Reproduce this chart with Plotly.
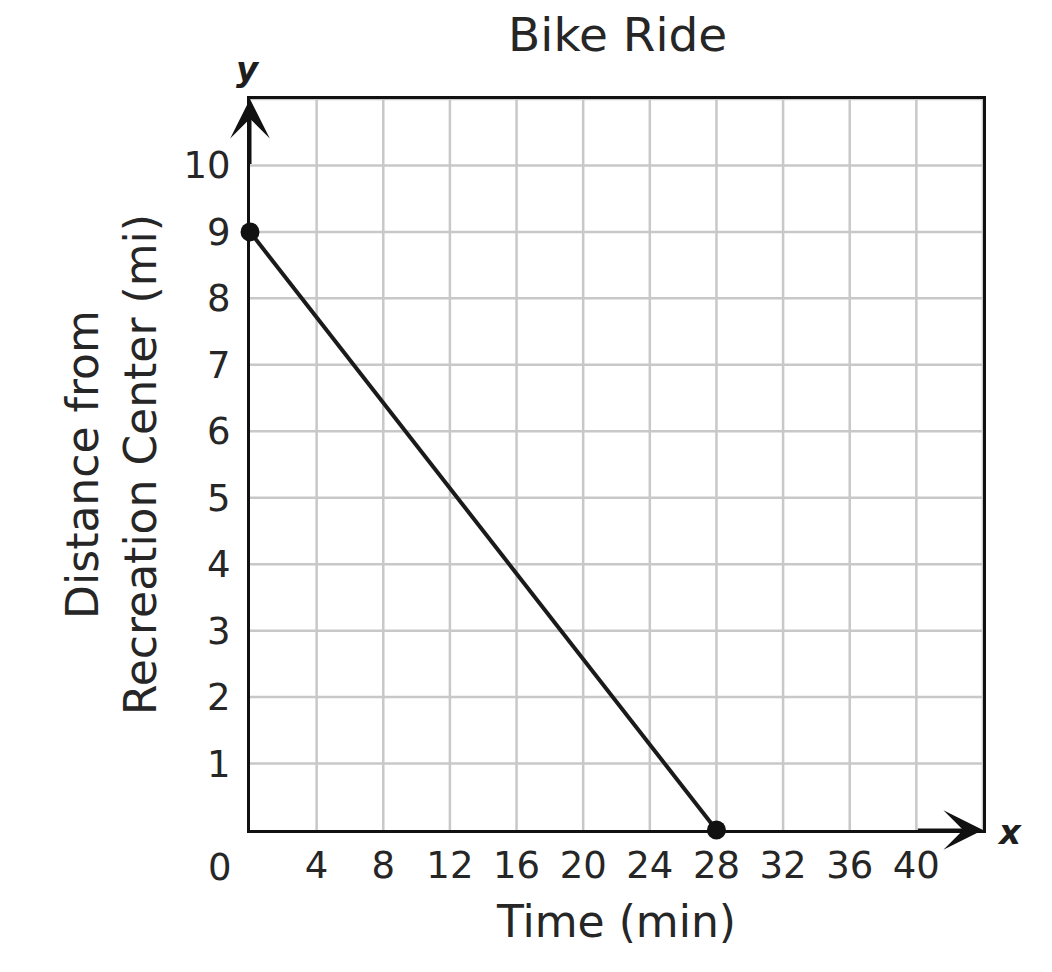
import plotly.graph_objects as go

# data
time_min = [0, 28]
distance_mi = [9, 0]
x_ticks = [4, 8, 12, 16, 20, 24, 28, 32, 36, 40]
y_ticks = [1, 2, 3, 4, 5, 6, 7, 8, 9, 10]
x_range = [0, 44]
y_range = [0, 11]

FONT = "DejaVu Sans"
TEXT = "#262626"
GRID = "#c8c8c8"

fig = go.Figure()

# grid lines drawn as shapes so every cell up to the box edge shows
for gx in range(4, 45, 4):
    fig.add_shape(type="line", xref="x", yref="y", x0=gx, x1=gx, y0=0, y1=11,
                  line=dict(color=GRID, width=2.5), layer="below")
for gy in range(1, 12):
    fig.add_shape(type="line", xref="x", yref="y", x0=0, x1=44, y0=gy, y1=gy,
                  line=dict(color=GRID, width=2.5), layer="below")

fig.add_trace(go.Scatter(
    x=time_min, y=distance_mi,
    mode="lines+markers",
    line=dict(color="#1a1a1a", width=4),
    marker=dict(color="#111111", size=19),
    cliponaxis=False,
    hoverinfo="x+y",
))

# axis arrows
fig.add_annotation(x=44, y=0, ax=40, ay=0, xref="x", yref="y", axref="x", ayref="y",
                   showarrow=True, arrowhead=3, arrowsize=2.2, arrowwidth=3,
                   arrowcolor="#111111", text="")
fig.add_annotation(x=0, y=11, ax=0, ay=10, xref="x", yref="y", axref="x", ayref="y",
                   showarrow=True, arrowhead=3, arrowsize=2.2, arrowwidth=3,
                   arrowcolor="#111111", text="")

# axis letters and the corner zero
fig.add_annotation(x=44, y=0, xref="x", yref="y", text="<b><i>x</i></b>",
                   showarrow=False, xanchor="left", xshift=12, yshift=-2,
                   font=dict(family=FONT, size=34, color="#1e1e1e"))
fig.add_annotation(x=0, y=11, xref="x", yref="y", text="<b><i>y</i></b>",
                   showarrow=False, yanchor="bottom", xshift=-2, yshift=8,
                   font=dict(family=FONT, size=34, color="#1e1e1e"))
fig.add_annotation(x=0, y=0, xref="x", yref="y", text="0",
                   showarrow=False, xanchor="center", yanchor="top",
                   xshift=-30, yshift=-14,
                   font=dict(family=FONT, size=37, color=TEXT))

fig.update_layout(
    width=1044, height=964,
    margin=dict(l=242, r=69, t=91, b=142),
    paper_bgcolor="white", plot_bgcolor="white",
    showlegend=False,
    font=dict(family=FONT, color=TEXT),
    title=dict(text="Bike Ride", x=0.584, xanchor="center", y=0.972, yanchor="middle",
               font=dict(family=FONT, size=47, color=TEXT)),
    xaxis=dict(
        range=x_range, tickvals=x_ticks, ticktext=[str(v) for v in x_ticks],
        showgrid=False, zeroline=False,
        showline=True, linecolor="#111111", linewidth=3, mirror=True,
        ticks="", ticklabelstandoff=1,
        tickfont=dict(family=FONT, size=37, color=TEXT),
        title=dict(text="Time (min)", standoff=20,
                   font=dict(family=FONT, size=44, color=TEXT)),
    ),
    yaxis=dict(
        range=y_range, tickvals=y_ticks, ticktext=[str(v) for v in y_ticks],
        showgrid=False, zeroline=False,
        showline=True, linecolor="#111111", linewidth=3, mirror=True,
        ticks="", ticklabelstandoff=9,
        tickfont=dict(family=FONT, size=37, color=TEXT),
        title=dict(text="Distance from<br>Recreation Center (mi)", standoff=14,
                   font=dict(family=FONT, size=44, color=TEXT)),
    ),
)

fig.write_html("out.html")
